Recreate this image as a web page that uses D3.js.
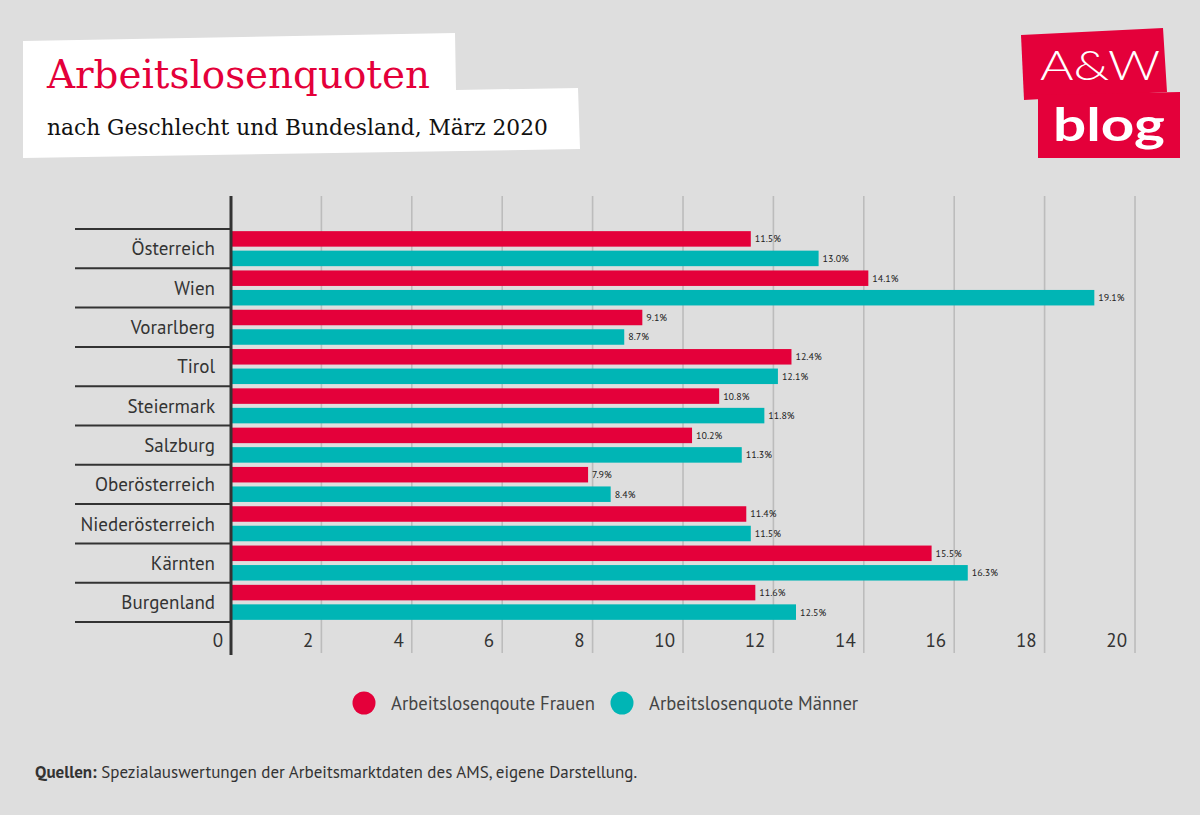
<!DOCTYPE html>
<html>
<head>
<meta charset="utf-8">
<script src="https://cdn.jsdelivr.net/npm/d3@7"></script>
<style>
  html, body { margin: 0; padding: 0; background: #dedede; }
  svg { display: block; }
</style>
</head>
<body>
<svg id="chart" width="1200" height="815"></svg>
<script>
// ---- data ----
const categories = ["Österreich", "Wien", "Vorarlberg", "Tirol", "Steiermark", "Salzburg", "Oberösterreich", "Niederösterreich", "Kärnten", "Burgenland"];
const seriesNames = ["Arbeitslosenqoute Frauen", "Arbeitslosenquote Männer"];
const frauen = [11.5, 14.1, 9.1, 12.4, 10.8, 10.2, 7.9, 11.4, 15.5, 11.6];
const maenner = [13.0, 19.1, 8.7, 12.1, 11.8, 11.3, 8.4, 11.5, 16.3, 12.5];
const xTicks = [0, 2, 4, 6, 8, 10, 12, 14, 16, 18, 20];
const titleText = "Arbeitslosenquoten";
const subtitleText = "nach Geschlecht und Bundesland, März 2020";
const sourceBold = "Quellen:";
const sourceText = " Spezialauswertungen der Arbeitsmarktdaten des AMS, eigene Darstellung.";

const RED = "#e4003a", TEAL = "#00b5b5", INK = "#333333";
const BODY = "'PT Sans', Lato, 'Noto Sans', sans-serif";

const svg = d3.select("#chart");
svg.append("rect").attr("width", 1200).attr("height", 815).attr("fill", "#dedede");

// ---- header ----
svg.append("polygon")
  .attr("points", "23,41 455,33 456,90 578,88 580,149 23,158")
  .attr("fill", "#ffffff");

function fitText(sel, targetW) {
  const w = sel.node().getComputedTextLength();
  const fs = parseFloat(sel.attr("font-size"));
  sel.attr("font-size", fs * targetW / w);
}
const title = svg.append("text").attr("x", 47).attr("y", 88)
  .attr("font-family", "'Roboto Slab', 'DejaVu Serif', serif")
  .attr("font-size", 40).attr("fill", RED).text(titleText);
fitText(title, 383);
const sub = svg.append("text").attr("x", 47).attr("y", 135)
  .attr("font-family", "'Roboto Slab', 'DejaVu Serif', serif")
  .attr("font-size", 24).attr("fill", "#111").text(subtitleText);
fitText(sub, 501);

// ---- logo ----
svg.append("polygon").attr("points", "1021,35 1163,28 1167,92 1024,100").attr("fill", RED);
svg.append("polygon").attr("points", "1038,95 1180,92 1180,158 1038,158").attr("fill", RED);
svg.append("text").attr("x", 1040).attr("y", 80)
  .attr("font-family", "Lato, 'Open Sans', sans-serif").attr("font-weight", 300)
  .attr("font-size", 42).attr("textLength", 120).attr("lengthAdjust", "spacingAndGlyphs")
  .attr("fill", "#fff").text("A&W");
svg.append("text").attr("x", 1053).attr("y", 141)
  .attr("font-family", "Lato, 'Open Sans', sans-serif").attr("font-weight", 700)
  .attr("font-size", 45).attr("textLength", 112).attr("lengthAdjust", "spacingAndGlyphs")
  .attr("fill", "#fff").text("blog");

// ---- scales ----
const x = d3.scaleLinear().domain([0, 20]).range([231, 1135]);
const y = d3.scaleBand().domain(categories).range([229, 622]).padding(0);
const ySub = d3.scaleBand().domain(seriesNames).range([0, y.bandwidth()])
  .paddingInner(0.205).paddingOuter(0.11);
const color = d3.scaleOrdinal().domain(seriesNames).range([RED, TEAL]);

// gridlines
svg.append("g").selectAll("line").data(xTicks.filter(d => d > 0)).join("line")
  .attr("x1", d => x(d)).attr("x2", d => x(d))
  .attr("y1", 196).attr("y2", 653)
  .attr("stroke", "#bcbcbc").attr("stroke-width", 1.6);

// row separators
const seps = categories.map(c => y(c)).concat([y.range()[1]]);
svg.append("g").selectAll("line").data(seps).join("line")
  .attr("x1", 75).attr("x2", 231)
  .attr("y1", d => d).attr("y2", d => d)
  .attr("stroke", INK).attr("stroke-width", 2);

// bars
const rows = categories.map((c, i) => ({ cat: c, vals: [
  { s: seriesNames[0], v: frauen[i] }, { s: seriesNames[1], v: maenner[i] }] }));
const g = svg.append("g").selectAll("g").data(rows).join("g")
  .attr("transform", d => `translate(0,${y(d.cat)})`);
g.selectAll("rect").data(d => d.vals).join("rect")
  .attr("x", x(0)).attr("y", d => ySub(d.s))
  .attr("width", d => x(d.v) - x(0)).attr("height", ySub.bandwidth())
  .attr("fill", d => color(d.s));
g.selectAll("text").data(d => d.vals).join("text")
  .attr("x", d => x(d.v) + 4)
  .attr("y", d => ySub(d.s) + ySub.bandwidth() / 2)
  .attr("dy", "0.35em")
  .attr("font-family", BODY).attr("font-size", 10).attr("fill", "#222")
  .text(d => d.v.toFixed(1) + "%");

// category labels
svg.append("g").selectAll("text").data(categories).join("text")
  .attr("x", 215).attr("y", d => y(d) + y.bandwidth() / 2)
  .attr("dy", "0.36em").attr("text-anchor", "end")
  .attr("font-family", BODY).attr("font-size", 19).attr("fill", INK)
  .text(d => d);

// axis line
svg.append("line").attr("x1", x(0)).attr("x2", x(0)).attr("y1", 196).attr("y2", 655)
  .attr("stroke", INK).attr("stroke-width", 3);

// tick labels
svg.append("g").selectAll("text").data(xTicks).join("text")
  .attr("x", d => x(d) - 8).attr("y", 647).attr("text-anchor", "end")
  .attr("font-family", BODY).attr("font-size", 19).attr("fill", INK)
  .text(d => d);

// legend
const legX = [364, 622];
const leg = svg.append("g").selectAll("g").data(seriesNames).join("g")
  .attr("transform", (d, i) => `translate(${legX[i]},703)`);
leg.append("circle").attr("r", 11.5).attr("fill", d => color(d));
leg.append("text").attr("x", 27).attr("dy", "0.35em")
  .attr("font-family", BODY).attr("font-size", 18.6).attr("fill", "#444")
  .text(d => d);

// source
const src = svg.append("text").attr("x", 35).attr("y", 778)
  .attr("font-family", BODY).attr("font-size", 17).attr("fill", INK);
src.append("tspan").attr("font-weight", 700).text(sourceBold);
src.append("tspan").text(sourceText);
</script>
</body>
</html>
